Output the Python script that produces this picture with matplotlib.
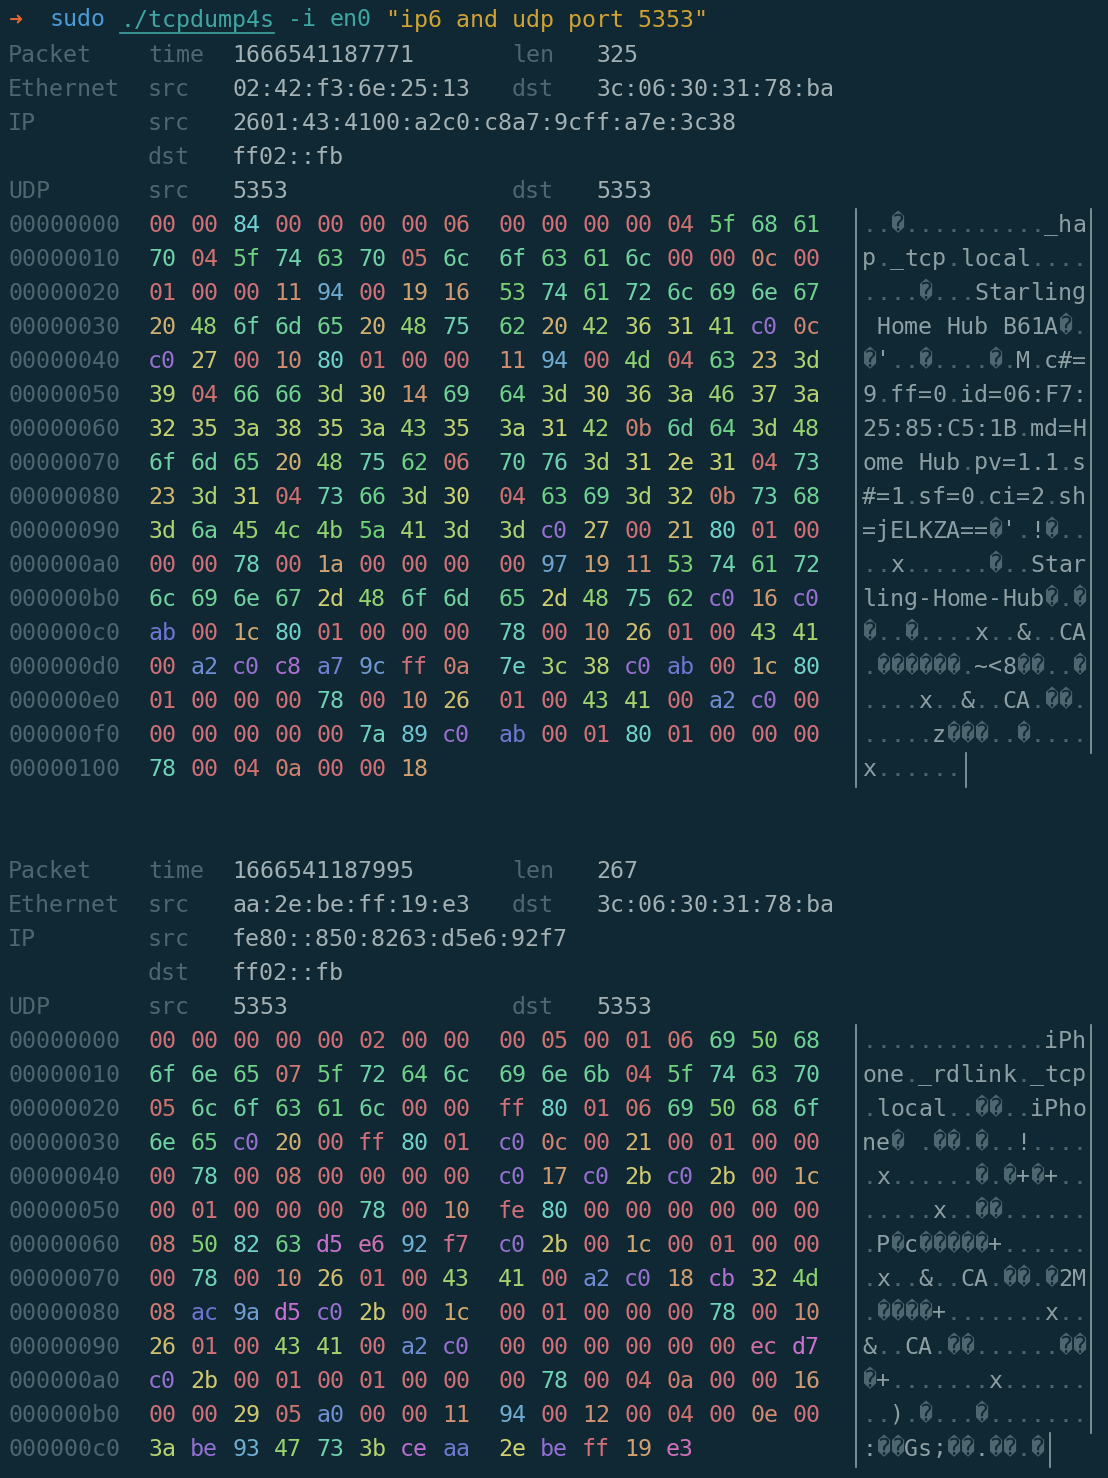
import colorsys
import matplotlib
matplotlib.use("Agg")
import matplotlib.pyplot as plt

W, H = 1108, 1478
BG = "#0f2833"
LABEL = "#4e6670"
VALUE = "#a3b1b5"
ASC = "#8d9fa4"
DIM = "#4e6670"

command = ["sudo", "./tcpdump4s", "-i", "en0", '"ip6 and udp port 5353"']

pkt1_header = [("Packet", "time", "1666541187771", "len", "325"),
               ("Ethernet", "src", "02:42:f3:6e:25:13", "dst", "3c:06:30:31:78:ba"),
               ("IP", "src", "2601:43:4100:a2c0:c8a7:9cff:a7e:3c38", "", ""),
               ("", "dst", "ff02::fb", "", ""),
               ("UDP", "src", "5353", "dst", "5353")]
pkt1_bytes = [
    "00 00 84 00 00 00 00 06 00 00 00 00 04 5f 68 61",
    "70 04 5f 74 63 70 05 6c 6f 63 61 6c 00 00 0c 00",
    "01 00 00 11 94 00 19 16 53 74 61 72 6c 69 6e 67",
    "20 48 6f 6d 65 20 48 75 62 20 42 36 31 41 c0 0c",
    "c0 27 00 10 80 01 00 00 11 94 00 4d 04 63 23 3d",
    "39 04 66 66 3d 30 14 69 64 3d 30 36 3a 46 37 3a",
    "32 35 3a 38 35 3a 43 35 3a 31 42 0b 6d 64 3d 48",
    "6f 6d 65 20 48 75 62 06 70 76 3d 31 2e 31 04 73",
    "23 3d 31 04 73 66 3d 30 04 63 69 3d 32 0b 73 68",
    "3d 6a 45 4c 4b 5a 41 3d 3d c0 27 00 21 80 01 00",
    "00 00 78 00 1a 00 00 00 00 97 19 11 53 74 61 72",
    "6c 69 6e 67 2d 48 6f 6d 65 2d 48 75 62 c0 16 c0",
    "ab 00 1c 80 01 00 00 00 78 00 10 26 01 00 43 41",
    "00 a2 c0 c8 a7 9c ff 0a 7e 3c 38 c0 ab 00 1c 80",
    "01 00 00 00 78 00 10 26 01 00 43 41 00 a2 c0 00",
    "00 00 00 00 00 7a 89 c0 ab 00 01 80 01 00 00 00",
    "78 00 04 0a 00 00 18",
]
pkt2_header = [("Packet", "time", "1666541187995", "len", "267"),
               ("Ethernet", "src", "aa:2e:be:ff:19:e3", "dst", "3c:06:30:31:78:ba"),
               ("IP", "src", "fe80::850:8263:d5e6:92f7", "", ""),
               ("", "dst", "ff02::fb", "", ""),
               ("UDP", "src", "5353", "dst", "5353")]
pkt2_bytes = [
    "00 00 00 00 00 02 00 00 00 05 00 01 06 69 50 68",
    "6f 6e 65 07 5f 72 64 6c 69 6e 6b 04 5f 74 63 70",
    "05 6c 6f 63 61 6c 00 00 ff 80 01 06 69 50 68 6f",
    "6e 65 c0 20 00 ff 80 01 c0 0c 00 21 00 01 00 00",
    "00 78 00 08 00 00 00 00 c0 17 c0 2b c0 2b 00 1c",
    "00 01 00 00 00 78 00 10 fe 80 00 00 00 00 00 00",
    "08 50 82 63 d5 e6 92 f7 c0 2b 00 1c 00 01 00 00",
    "00 78 00 10 26 01 00 43 41 00 a2 c0 18 cb 32 4d",
    "08 ac 9a d5 c0 2b 00 1c 00 01 00 00 00 78 00 10",
    "26 01 00 43 41 00 a2 c0 00 00 00 00 00 00 ec d7",
    "c0 2b 00 01 00 01 00 00 00 78 00 04 0a 00 00 16",
    "00 00 29 05 a0 00 00 11 94 00 12 00 04 00 0e 00",
    "3a be 93 47 73 3b ce aa 2e be ff 19 e3",
]

CW = 14.0      # char width px
X0 = 8.0
LH = 34.0
FS = CW / 0.602 * 72 / 100
FONT = "DejaVu Sans Mono"

fig = plt.figure(figsize=(W / 100, H / 100), dpi=100, facecolor=BG)
ax = fig.add_axes([0, 0, 1, 1])
ax.set_xlim(0, W); ax.set_ylim(H, 0); ax.axis("off")
ax.set_facecolor(BG)


def put(col, y, s, color, x=None):
    xx = X0 + col * CW if x is None else x
    ax.text(xx, y, s, color=color, fontsize=FS, family=FONT, va="center", ha="left")


def byte_color(v):
    h = ((v / 256.0) * 360 - 5) % 360 / 360.0
    r, g, b = colorsys.hls_to_rgb(h, 0.63, 0.52)
    return (r, g, b)


# command line
y = 20
put(0, y, "➜", "#e0652f")
put(3, y, command[0], "#4b9bd8")
put(8, y, command[1], "#3fa7a3")
ax.plot([X0 + 8 * CW, X0 + 19 * CW], [y + 13, y + 13], color="#3fa7a3", lw=1.2)
put(20, y, command[2], "#3fa7a3")
put(23, y, command[3], "#3fa7a3")
put(27, y, command[4], "#d1a233")

AX_X = X0 + 61 * CW


def packet(y0, header, rows):
    y = y0
    for a, b, c, d, e in header:
        put(0, y, a, LABEL); put(10, y, b, LABEL); put(16, y, c, VALUE)
        put(36, y, d, LABEL); put(42, y, e, VALUE)
        y += LH
    ytop = y
    for i, row in enumerate(rows):
        put(0, y, "%08x" % (i * 16), LABEL)
        vals = [int(t, 16) for t in row.split()]
        for j, v in enumerate(vals):
            col = 10 + 3 * j + (1 if j >= 8 else 0)
            put(col, y, "%02x" % v, byte_color(v))
        for j, v in enumerate(vals):
            if 0x20 <= v < 0x7f:
                put(0, y, chr(v), ASC, x=AX_X + j * CW)
            elif v >= 0x80:
                put(0, y, "\ufffd", DIM, x=AX_X + j * CW)
            else:
                put(0, y, ".", DIM, x=AX_X + j * CW)
        y += LH
    xb = AX_X - 6
    ax.plot([xb, xb], [ytop - 16, y - 16], color="#8d9fa4", lw=1.2)
    n_last = len(rows[-1].split())
    xe_full = AX_X + 16 * CW + 5
    ax.plot([xe_full, xe_full], [ytop - 16, y - LH - 16], color="#8d9fa4", lw=1.2)
    xe = AX_X + n_last * CW + 6
    ax.plot([xe, xe], [y - LH - 16, y - 16], color="#8d9fa4", lw=1.2)


packet(55, pkt1_header, pkt1_bytes)
packet(871, pkt2_header, pkt2_bytes)

fig.savefig("out.png", dpi=100, facecolor=BG)
